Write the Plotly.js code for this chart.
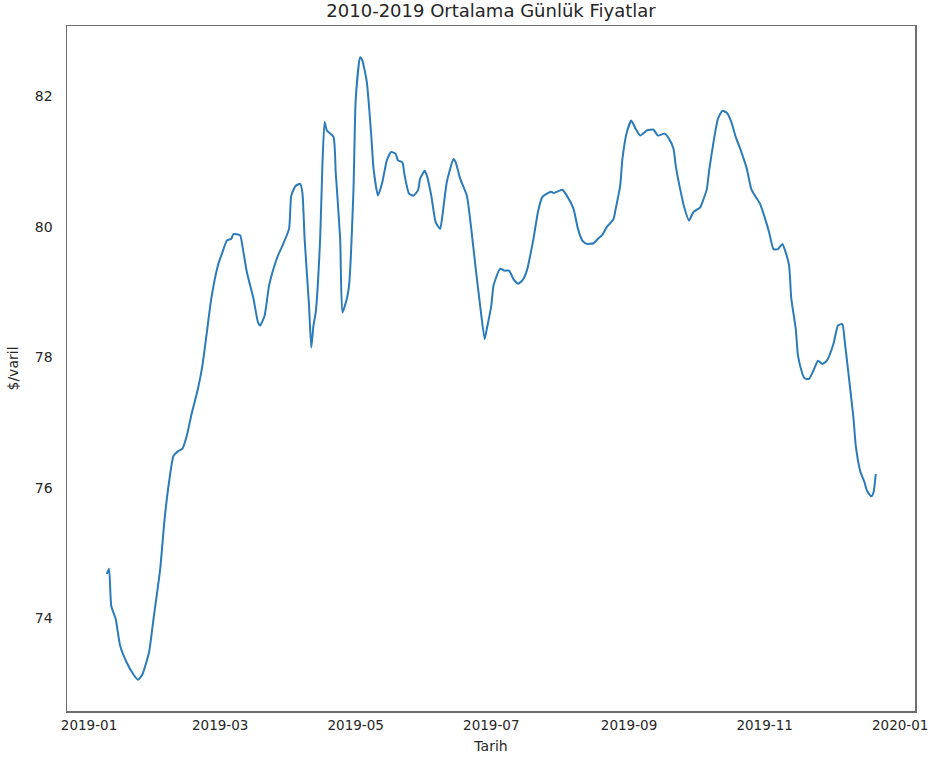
<!DOCTYPE html>
<html>
<head>
<meta charset="utf-8">
<script src="https://cdn.plot.ly/plotly-3.0.1.min.js"></script>
<style>html,body{margin:0;padding:0;background:#fff;}#chart{width:930px;height:771px;}</style>
</head>
<body>
<div id="chart"></div>
<script>
const dates = [
"2019-01-09","2019-01-10","2019-01-11","2019-01-13","2019-01-15","2019-01-18","2019-01-21","2019-01-23","2019-01-25","2019-01-28",
"2019-01-30","2019-02-02","2019-02-04","2019-02-06","2019-02-08","2019-02-10","2019-02-12","2019-02-14","2019-02-16","2019-02-19",
"2019-02-21","2019-02-23","2019-02-25","2019-02-28","2019-03-02","2019-03-04","2019-03-06","2019-03-07","2019-03-10","2019-03-11",
"2019-03-13","2019-03-16","2019-03-18","2019-03-19","2019-03-21","2019-03-23","2019-03-25","2019-03-27","2019-03-29","2019-04-01",
"2019-04-02","2019-04-04","2019-04-06","2019-04-07","2019-04-08","2019-04-10","2019-04-11","2019-04-12","2019-04-13","2019-04-15",
"2019-04-16","2019-04-17","2019-04-18","2019-04-21","2019-04-22","2019-04-24","2019-04-25","2019-04-27","2019-04-28","2019-04-30",
"2019-05-01","2019-05-03","2019-05-04","2019-05-06","2019-05-08","2019-05-09","2019-05-11","2019-05-13","2019-05-15","2019-05-17",
"2019-05-19","2019-05-20","2019-05-22","2019-05-23","2019-05-25","2019-05-27","2019-05-29","2019-05-30","2019-06-01","2019-06-02",
"2019-06-04","2019-06-06","2019-06-08","2019-06-09","2019-06-11","2019-06-14","2019-06-15","2019-06-17","2019-06-20","2019-06-22",
"2019-06-24","2019-06-26","2019-06-28","2019-06-29","2019-07-01","2019-07-02","2019-07-05","2019-07-07","2019-07-09","2019-07-11",
"2019-07-13","2019-07-15","2019-07-17","2019-07-20","2019-07-22","2019-07-24","2019-07-26","2019-07-28","2019-07-29","2019-08-01",
"2019-08-02","2019-08-04","2019-08-07","2019-08-09","2019-08-11","2019-08-13","2019-08-16","2019-08-18","2019-08-20","2019-08-22",
"2019-08-25","2019-08-26","2019-08-28","2019-08-29","2019-08-31","2019-09-02","2019-09-04","2019-09-06","2019-09-08","2019-09-09",
"2019-09-12","2019-09-14","2019-09-17","2019-09-19","2019-09-21","2019-09-22","2019-09-24","2019-09-26","2019-09-28","2019-09-30",
"2019-10-03","2019-10-04","2019-10-06","2019-10-07","2019-10-09","2019-10-11","2019-10-13","2019-10-15","2019-10-17","2019-10-19",
"2019-10-21","2019-10-24","2019-10-26","2019-10-28","2019-10-30","2019-11-01","2019-11-03","2019-11-05","2019-11-07","2019-11-09",
"2019-11-10","2019-11-12","2019-11-13","2019-11-15","2019-11-16","2019-11-18","2019-11-19","2019-11-21","2019-11-23","2019-11-25",
"2019-11-27","2019-11-29","2019-12-02","2019-12-04","2019-12-06","2019-12-07","2019-12-09","2019-12-11","2019-12-12","2019-12-14",
"2019-12-16","2019-12-17","2019-12-19","2019-12-20","2019-12-21"
];
const prices = [
74.68,74.76,74.19,73.99,73.58,73.32,73.14,73.06,73.14,73.48,
73.99,74.75,75.52,76.09,76.49,76.56,76.60,76.80,77.11,77.52,
77.87,78.38,78.90,79.41,79.61,79.79,79.82,79.89,79.87,79.71,
79.31,78.90,78.54,78.49,78.64,79.10,79.36,79.56,79.71,79.97,
80.48,80.63,80.66,80.53,79.82,78.79,78.15,78.49,78.69,79.82,
80.94,81.61,81.48,81.38,80.84,79.82,78.69,78.90,79.10,80.58,
81.96,82.60,82.55,82.22,81.40,80.90,80.48,80.69,81.02,81.15,
81.12,81.02,80.99,80.79,80.51,80.48,80.56,80.74,80.86,80.79,
80.48,80.07,79.97,80.17,80.69,81.04,80.99,80.74,80.48,79.97,
79.36,78.79,78.28,78.44,78.79,79.10,79.36,79.33,79.33,79.20,
79.13,79.18,79.33,79.82,80.23,80.46,80.51,80.54,80.52,80.56,
80.57,80.48,80.28,79.97,79.79,79.74,79.75,79.82,79.88,80.00,
80.12,80.28,80.63,81.04,81.45,81.63,81.50,81.40,81.45,81.48,
81.49,81.40,81.43,81.35,81.20,80.94,80.58,80.28,80.10,80.23,
80.30,80.38,80.58,80.86,81.30,81.66,81.78,81.75,81.61,81.38,
81.20,80.89,80.58,80.46,80.35,80.15,79.92,79.66,79.66,79.74,
79.66,79.41,78.90,78.44,78.03,77.75,77.68,77.67,77.80,77.95,
77.90,77.95,78.21,78.49,78.51,78.26,77.67,77.06,76.65,76.26,
76.08,75.96,75.87,75.93,76.21
];
const xTickVals = ["2019-01-01","2019-03-01","2019-05-01","2019-07-01","2019-09-01","2019-11-01","2020-01-01"];
const xTickText = ["2019-01","2019-03","2019-05","2019-07","2019-09","2019-11","2020-01"];
const yTickVals = [74, 76, 78, 80, 82];
const yTickText = ["74", "76", "78", "80", "82"];

const txt = '#262626';
const fam = '"DejaVu Sans", "Liberation Sans", Arial, sans-serif';

Plotly.newPlot('chart', [{
  x: dates, y: prices, type: 'scatter', mode: 'lines',
  line: {color: '#2b7bba', width: 2, shape: 'spline', smoothing: 0.5},
  hoverinfo: 'x+y'
}], {
  width: 930, height: 771,
  margin: {l: 67, r: 15, t: 26, b: 60, pad: 0},
  paper_bgcolor: '#fff', plot_bgcolor: '#fff',
  showlegend: false,
  font: {family: fam, color: txt, size: 14},
  title: {text: '2010-2019 Ortalama Günlük Fiyatlar', font: {size: 18, color: txt, family: fam},
          x: 0.5, xanchor: 'center', xref: 'paper', y: 0.986, yanchor: 'middle', yref: 'container'},
  xaxis: {
    type: 'date', range: ['2018-12-22 02:00', '2020-01-07 16:00'],
    tickvals: xTickVals, ticktext: xTickText, ticks: '', showgrid: false, zeroline: false,
    showline: true, mirror: true, linecolor: '#6e6e6e', linewidth: 1.5,
    tickfont: {size: 13.5, color: txt}, ticklabelstandoff: 1, ticklabeloverflow: 'allow',
    title: {text: 'Tarih', font: {size: 14, color: txt}, standoff: 9},
    automargin: false
  },
  yaxis: {
    range: [72.58, 83.08],
    tickvals: yTickVals, ticktext: yTickText, ticks: '', showgrid: false, zeroline: false,
    showline: true, mirror: true, linecolor: '#6e6e6e', linewidth: 1.5,
    tickfont: {size: 14, color: txt}, ticklabelstandoff: 10,
    title: {text: '$/varil', font: {size: 14, color: txt}, standoff: 13},
    automargin: false
  }
}, {displayModeBar: false, staticPlot: true});
</script>
</body>
</html>
